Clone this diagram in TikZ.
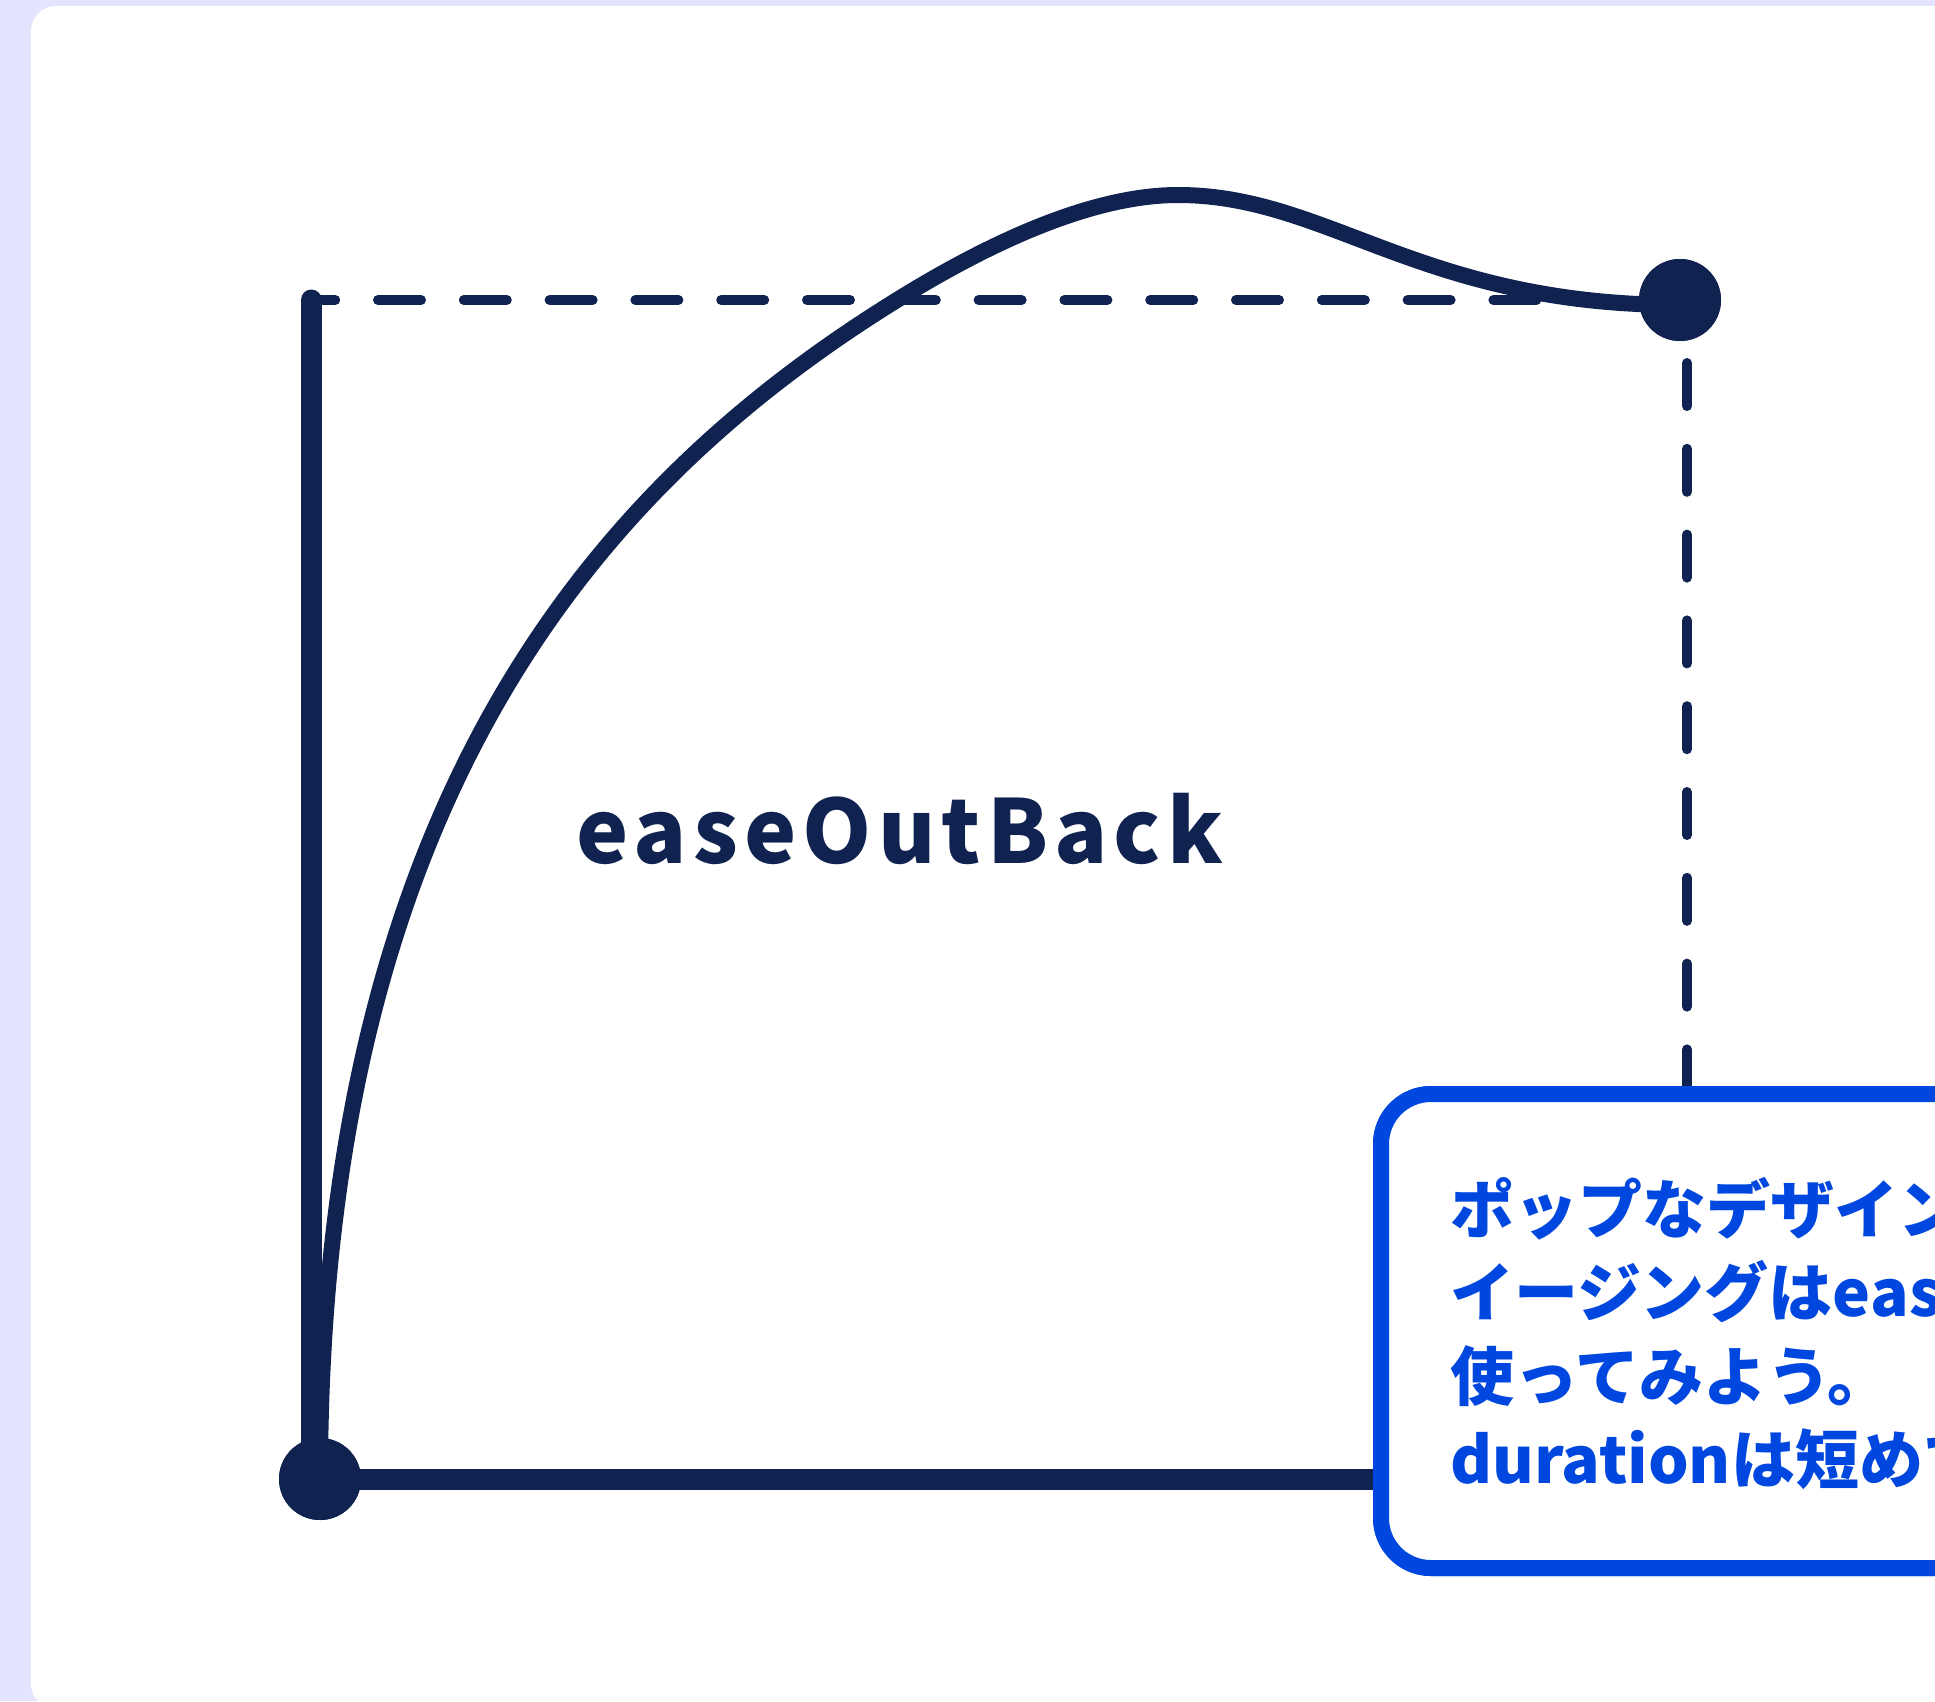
\documentclass[tikz,border=0pt]{standalone}
\usepackage{fontspec}
\newfontfamily\jpfont{Noto Sans CJK JP}
\newfontfamily\lblfont{Noto Sans CJK JP}[LetterSpace=7]
\definecolor{navy}{RGB}{16,35,80}
\definecolor{accent}{RGB}{0,71,224}
\definecolor{lav}{RGB}{228,228,254}
\begin{document}
\begin{tikzpicture}[x=1pt,y=-1pt,
  axisline/.style={line width=21pt, draw=navy, line cap=round},
  guide/.style={line width=10pt, draw=navy, line cap=round, dash pattern=on 43pt off 42.8pt},
  curveline/.style={line width=16pt, draw=navy, line cap=round, line join=round},
  dot/.style={circle, fill=navy, minimum size=82pt, inner sep=0pt},
  note/.style={font=\jpfont\bfseries\fontsize{64}{83}\selectfont, text=accent, anchor=base west, inner sep=0pt},
  callout/.style={draw=accent, line width=16pt, fill=white, rounded corners=50pt, minimum width=719pt, minimum height=474pt, inner sep=0pt, outer sep=0pt},
  label/.style={font=\lblfont\bfseries\fontsize{88}{100}\selectfont, text=navy, anchor=base west, inner sep=0pt}]
\useasboundingbox (0,0) rectangle (1935,1701);
\clip (0,0) rectangle (1935,1701);
\fill[lav] (0,0) rectangle (1935,1701);
\fill[white, rounded corners=25pt] (31,6) rectangle (2100,1709);

% named points
\coordinate (ytop) at (311,300);
\coordinate (ybot) at (311,1479);
\coordinate (pv) at (1687,300);
\coordinate (cross) at (897,300);
\coordinate (peak) at (1178,195);
\coordinate (cend) at (1680,305);
\node[dot] (o) at (320,1479) {};
\node[dot] (p) at (1680,300) {};
\node[callout] (box) at (1740.5,1331) {};

% guides
\draw[guide, dash phase=18.8pt] (ytop) -- (p.center);
\draw[guide, dash phase=22.8pt] (pv) -- (pv |- box.north);

% axes
\draw[axisline] (ytop) -- (ybot);
\draw[axisline] (o.center) -- (o.center -| box.west);

% easing curve
\draw[curveline] (o.center)
  .. controls (320,779) and (616.5,473.9) .. (cross)
  .. controls (982,247.3) and (1088,195) .. (peak)
  .. controls (1328,195) and (1420,305) .. (cend);

% dots on top
\node[dot] at (o.center) {};
\node[dot] at (p.center) {};

% callout box on top of axis
\node[callout] at (box.center) {};
\node[note] (t1) at (1450,1233) {ポップなデザインには};
\node[note] (t2) at (1450,1316) {イージングはeaseOutBackを};
\node[note] (t3) at (1450,1400) {使ってみよう。};
\node[note] (t4) at (1450,1483) {durationは短めで};

\node[label] (lbl) at (576,863) {easeOutBack};
\end{tikzpicture}
\end{document}
